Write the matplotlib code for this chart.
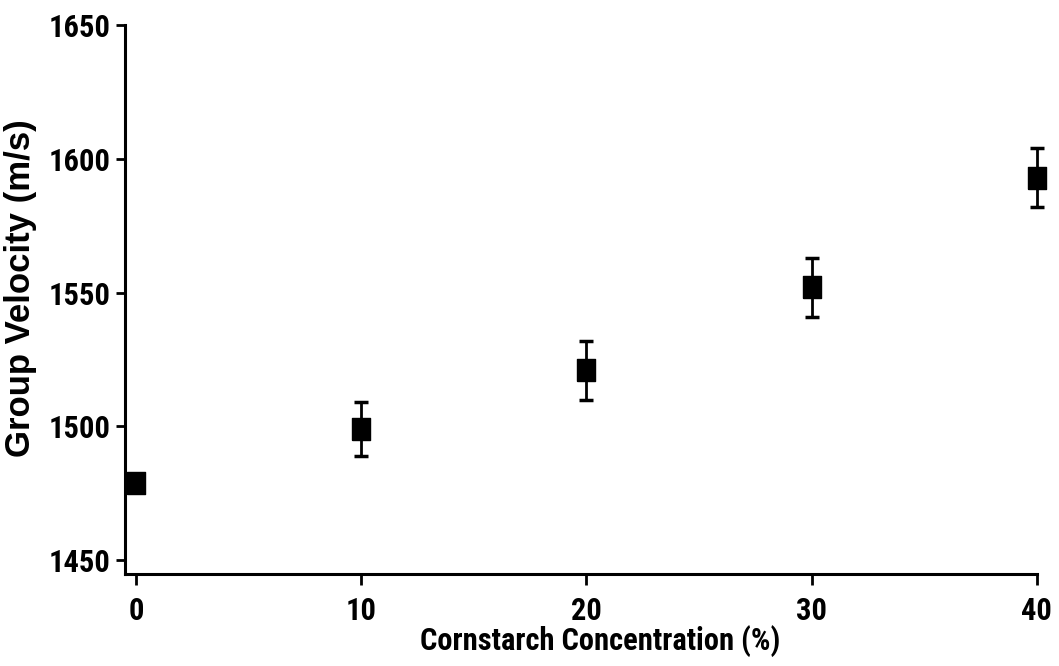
import matplotlib
matplotlib.use("Agg")
import matplotlib.pyplot as plt
from matplotlib import font_manager
from matplotlib.font_manager import FontProperties

concentration = [0, 10, 20, 30, 40]
velocity = [1479, 1499, 1521, 1552, 1593]
velocity_err = [0, 10, 11, 11, 11]


def find_font(files, size):
    # look for a narrow bold face among the installed files
    for want in files:
        for f in font_manager.fontManager.ttflist:
            if f.fname.endswith(want):
                return FontProperties(fname=f.fname, size=size)
    return FontProperties(family='DejaVu Sans', weight='bold', stretch='condensed', size=size)


narrow_files = ['LiberationSansNarrow-Bold.ttf', 'RobotoCondensed-Bold.ttf',
                'PT_Sans-Narrow-Web-Bold.ttf', 'PTSansNarrow-Bold.ttf',
                'BarlowSemiCondensed-Bold.ttf', 'DejaVuSansCondensed-Bold.ttf']
tick_font = find_font(narrow_files, 22)
xlab_font = find_font(narrow_files, 22)
ylab_font = FontProperties(family=['Liberation Sans', 'DejaVu Sans'], weight='bold', size=25)

fig = plt.figure(figsize=(10.59, 6.66), dpi=100)
ax = fig.add_axes([0.118, 0.138, 0.861, 0.8245])

# slightly tall box marker like the original
box = [(-0.41, -0.5), (0.41, -0.5), (0.41, 0.5), (-0.41, 0.5), (-0.41, -0.5)]
eb = ax.errorbar(concentration, velocity, yerr=velocity_err, fmt='none',
                 ecolor='black', elinewidth=2, capsize=5, capthick=2.5)
for art in eb.lines[1] + eb.lines[2]:
    art.set_clip_on(False)
ax.plot(concentration, velocity, linestyle='none', marker=box,
        markersize=16, color='black', clip_on=False, zorder=3)

ax.set_xlim(-0.5, 40)
ax.set_ylim(1444.8, 1650)
ax.set_xticks([0, 10, 20, 30, 40])
ax.set_yticks([1450, 1500, 1550, 1600, 1650])

for s in ['top', 'right']:
    ax.spines[s].set_visible(False)
for s in ['left', 'bottom']:
    ax.spines[s].set_linewidth(2.2)
ax.tick_params(axis='x', width=2, length=8, direction='out', pad=8)
ax.tick_params(axis='y', width=2, length=6.5, direction='out', pad=4)

for lab in ax.get_xticklabels() + ax.get_yticklabels():
    lab.set_fontproperties(tick_font)

ax.set_xlabel('Cornstarch Concentration (%)', fontproperties=xlab_font)
ax.set_ylabel('Group Velocity (m/s)', fontproperties=ylab_font)
ax.xaxis.set_label_coords(0.521, -0.093)
ax.yaxis.set_label_coords(-0.0965, 0.52)

fig.savefig('out.png', dpi=100)
